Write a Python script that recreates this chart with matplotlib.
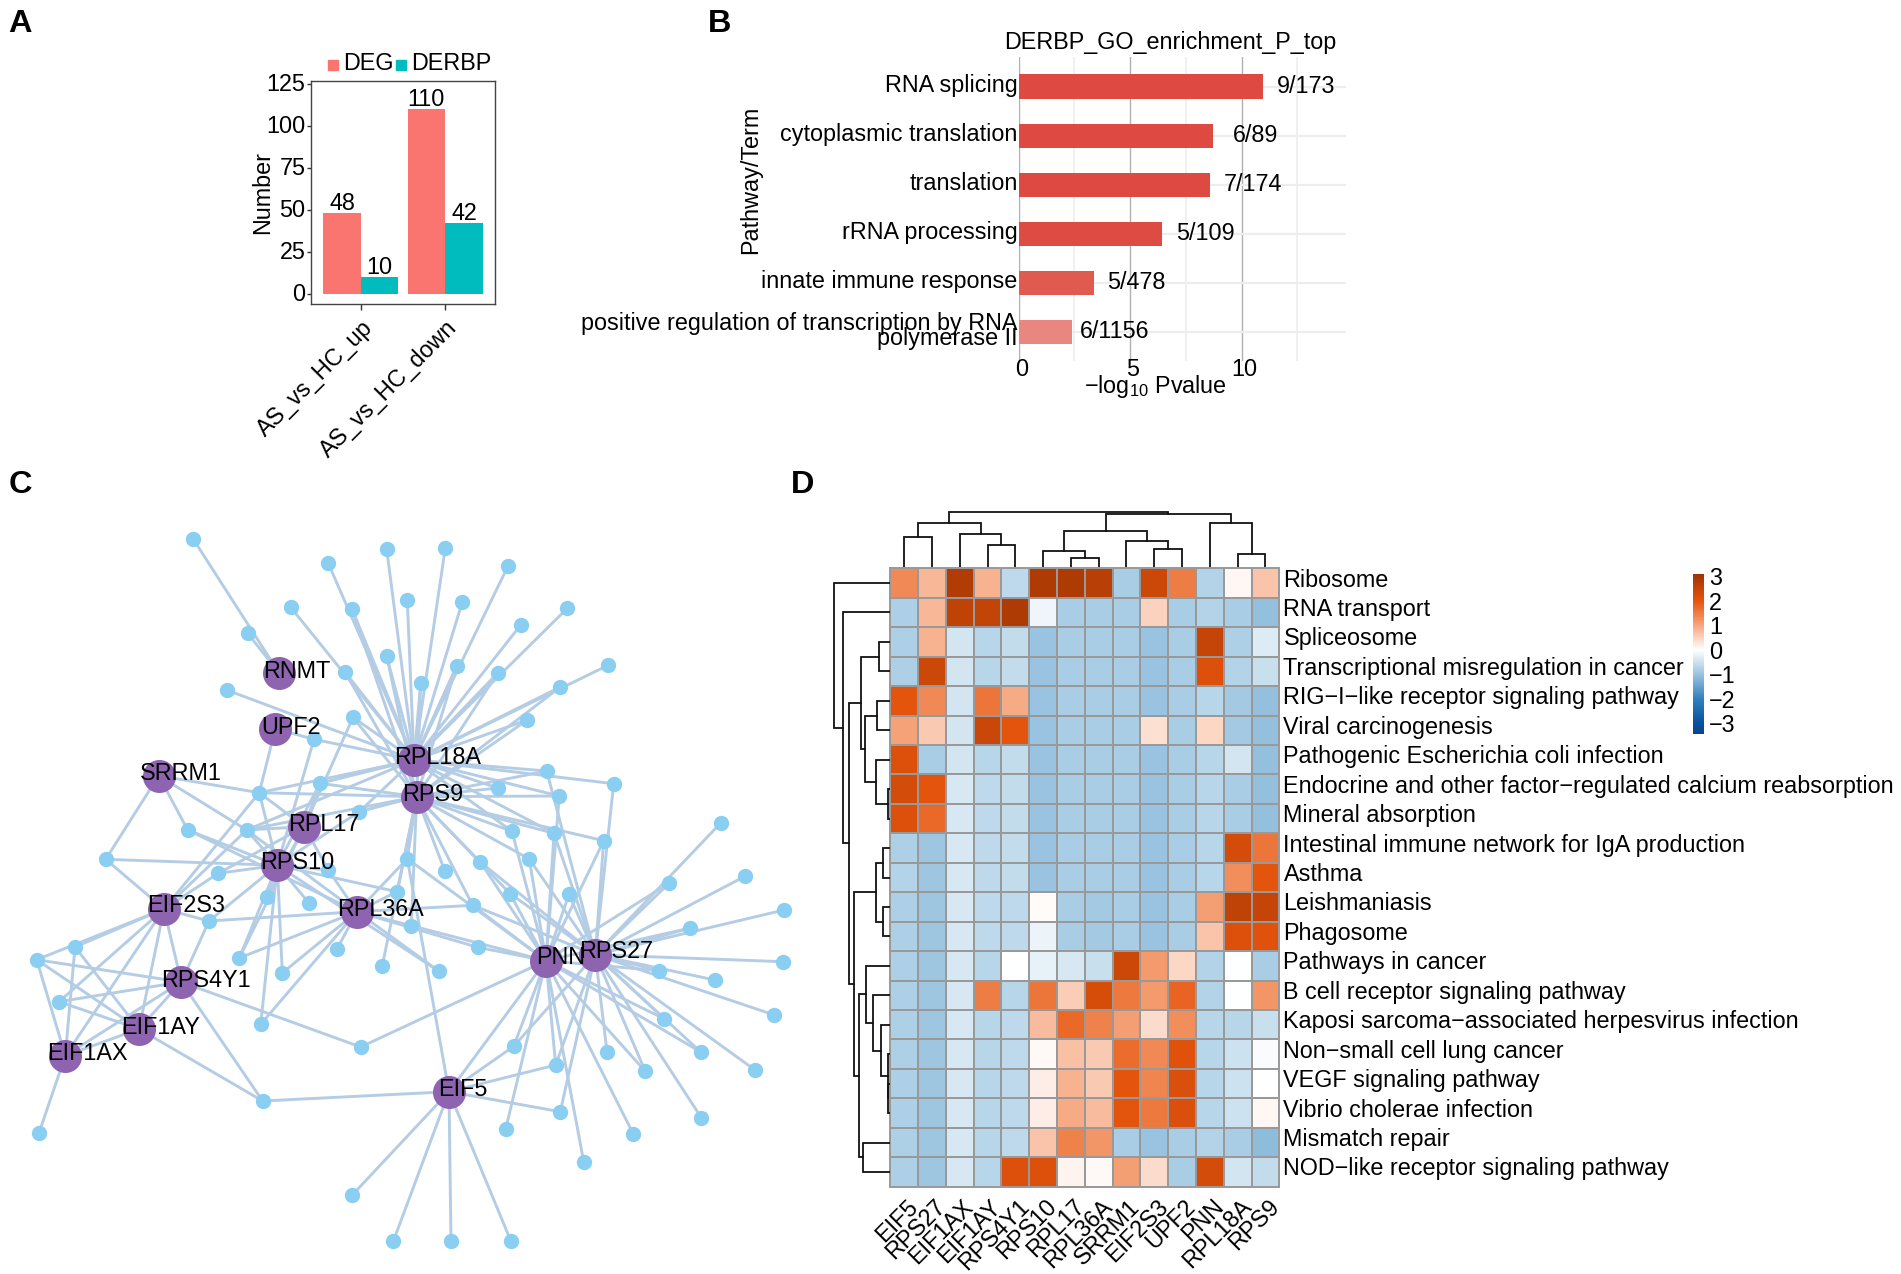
import matplotlib
matplotlib.use('Agg')
import matplotlib.pyplot as plt
import numpy as np
from matplotlib.collections import LineCollection
from matplotlib.colors import LinearSegmentedColormap, Normalize
from matplotlib.transforms import ScaledTranslation

plt.rcParams['font.family'] = ['Liberation Sans', 'DejaVu Sans']
plt.rcParams['mathtext.fontset'] = 'custom'
plt.rcParams['mathtext.rm'] = 'Liberation Sans'
plt.rcParams['mathtext.default'] = 'rm'

W, H = 1901, 1274
FS = 16.85

# panel A
groups = ['AS_vs_HC_up', 'AS_vs_HC_down']
deg_counts = [48, 110]
derbp_counts = [10, 42]

# panel B
go_terms = ['RNA splicing', 'cytoplasmic translation', 'translation', 'rRNA processing',
            'innate immune response',
            'positive regulation of transcription by RNA\npolymerase II']
go_logp = [10.97, 8.72, 8.57, 6.45, 3.36, 2.37]
go_counts = ['9/173', '6/89', '7/174', '5/109', '5/478', '6/1156']
go_colors = ['#DE4A42', '#DE4A42', '#DE4A42', '#DE4B43', '#E05A50', '#E98680']

# panel C, positions in image pixels
hub_names = ['RNMT', 'UPF2', 'SRRM1', 'RPL17', 'RPS10', 'RPL18A', 'RPS9', 'EIF2S3',
             'RPL36A', 'RPS4Y1', 'EIF1AY', 'EIF1AX', 'PNN', 'RPS27', 'EIF5']
hub_x = [279.3, 275.3, 158.7, 304.3, 277.3, 414, 416.7, 164, 357, 181.3, 139, 65.3, 546, 595.3, 449]
hub_y = [673.3, 728.7, 775.7, 826.7, 865.3, 760, 796.7, 909, 911.7, 982, 1029, 1055.7, 960.7, 954.7, 1091.7]
hub_label_x = [263, 261.7, 140, 288, 260, 394, 402.3, 146.7, 337.3, 160.7, 120.7, 47.3, 536, 579, 438]
hub_label_y = [671, 727, 773.7, 824.7, 862.7, 758, 794.7, 906, 909.3, 980.3, 1027, 1053.7, 958, 952, 1089.3]
leaf_x = [193, 247.7, 328, 386.7, 352, 290.7, 407.3, 386.7, 345, 226.7,
          353, 314, 320, 259.3, 359.3, 187.7, 246.7, 105.7, 218.3, 328.3,
          407.3, 397, 266.7, 309.3, 209, 411.3, 337, 239.3, 382.3, 75,
          36.7, 282.3, 59, 260.7, 360.7, 262.7, 39, 352, 393.3, 445.3,
          508, 462.3, 567.3, 521, 608, 456.7, 497.7, 560.3, 420.7, 527.3,
          546.7, 613.7, 497.7, 559.3, 512, 554, 603.7, 720.7, 480.3, 529.3,
          444.7, 669.3, 745, 510, 569, 472.7, 690.3, 784, 477.7, 439,
          782.7, 659.3, 715, 774.3, 664, 513.7, 607, 700.7, 645.3, 755,
          555.7, 701.3, 633.3, 560.3, 505.7, 583.7, 451, 511]
leaf_y = [538.7, 633.3, 562.7, 549.3, 609, 607.3, 600, 656, 672, 690,
          717.3, 739.3, 783.3, 792.7, 811.7, 830, 830, 859.3, 873.3, 870,
          858.7, 891.7, 897.3, 903.3, 921, 925.7, 949, 958, 965.7, 947,
          959.7, 973, 1001.7, 1024.3, 1047, 1101, 1133, 1195.3, 1241.3, 548,
          566, 602, 608.3, 624.7, 665.3, 665.7, 673, 687, 683.3, 720,
          771, 783.7, 788, 796, 831.3, 833.3, 840.7, 823, 862, 859,
          870.7, 883, 876.3, 893.5, 894.3, 905.3, 928, 910, 947.3, 971.3,
          961.7, 970.7, 980, 1015, 1018.7, 1046.3, 1051.7, 1052, 1071.3, 1070,
          1065, 1117.7, 1134, 1111.7, 1129, 1161.7, 1241.3, 1241.3]
leaf_hubs = ['RNMT', 'RNMT', 'RPL18A', 'RPL18A', 'RPL18A RPS9', 'RPL18A', 'RPL18A',
             'RPL18A RPS9', 'RPL18A RPS9', 'RPL18A', 'RPL18A RPS9 RPL17',
             'UPF2 RPL18A RPS10', 'RPL18A RPS9 RPL17 RPS10',
             'SRRM1 UPF2 RPL18A RPS9 RPL17 EIF2S3 RPS10', 'RPL18A RPS9 RPS10',
             'SRRM1 RPS10 RPL36A', 'SRRM1 RPL18A RPS9 RPL17 RPS10 RPL36A EIF2S3',
             'SRRM1 RPS10 EIF2S3', 'EIF2S3 RPS10 RPL17', 'RPS10 RPL36A RPL17',
             'RPS9 RPL36A PNN EIF5', 'RPS9 RPL36A RPS10', 'RPS10 RPL17', 'RPS10',
             'RPL36A EIF2S3 RPS4Y1 RPS10', 'RPL36A PNN RPS9', 'RPL36A',
             'RPL36A RPS10 RPL17', 'RPS9', 'EIF2S3 EIF1AX EIF1AY',
             'EIF2S3 EIF1AX RPS4Y1 EIF1AY', 'RPS10 RPL36A', 'RPS4Y1 EIF1AY EIF2S3',
             'RPS10 RPL36A', 'RPS4Y1 PNN', 'RPS4Y1 EIF1AY EIF5', 'EIF1AX', 'EIF5', 'EIF5',
             'RPL18A', 'RPL18A', 'RPL18A', 'RPL18A', 'RPL18A', 'RPL18A',
             'RPL18A RPS9', 'RPL18A RPS9', 'RPL18A RPS9', 'RPL18A RPS9', 'RPL18A RPS9',
             'RPL18A RPS9 RPS27', 'RPL18A RPS27', 'RPL18A RPS9', 'RPL18A RPS9 PNN',
             'RPS9 RPL18A PNN', 'RPS9 RPL18A RPS27 PNN', 'RPS9 RPS27 PNN', 'RPS27',
             'RPS9 PNN RPS27', 'RPS9 PNN RPS27', 'RPS9', 'RPS27 PNN', 'RPS27',
             'RPS9 PNN RPS27', 'RPS27 PNN', 'RPL36A PNN RPS9 RPS27', 'RPS27 PNN', 'RPS27',
             'RPL36A PNN', 'RPL36A RPS10', 'RPS27', 'RPS27 PNN', 'RPS27', 'RPS27',
             'RPS27 PNN', 'EIF5 PNN RPS27', 'RPS27', 'RPS27 PNN', 'RPS27 PNN', 'RPS27',
             'EIF5 PNN RPS27', 'RPS27', 'PNN', 'EIF5 RPS27', 'PNN', 'PNN', 'EIF5', 'EIF5']
hub_links = [('EIF5', 'PNN'), ('EIF1AX', 'EIF1AY'), ('EIF1AX', 'RPS4Y1'), ('EIF1AX', 'EIF2S3'),
             ('EIF1AY', 'EIF2S3'), ('EIF1AY', 'RPS4Y1'), ('RPS4Y1', 'EIF2S3')]

# panel D
heat_cols = ['EIF5', 'RPS27', 'EIF1AX', 'EIF1AY', 'RPS4Y1', 'RPS10', 'RPL17', 'RPL36A',
             'SRRM1', 'EIF2S3', 'UPF2', 'PNN', 'RPL18A', 'RPS9']
heat_rows = ['Ribosome', 'RNA transport', 'Spliceosome', 'Transcriptional misregulation in cancer',
             'RIG\u2212I\u2212like receptor signaling pathway', 'Viral carcinogenesis',
             'Pathogenic Escherichia coli infection',
             'Endocrine and other factor\u2212regulated calcium reabsorption', 'Mineral absorption',
             'Intestinal immune network for IgA production', 'Asthma', 'Leishmaniasis', 'Phagosome',
             'Pathways in cancer', 'B cell receptor signaling pathway',
             'Kaposi sarcoma\u2212associated herpesvirus infection', 'Non\u2212small cell lung cancer',
             'VEGF signaling pathway', 'Vibrio cholerae infection', 'Mismatch repair',
             'NOD\u2212like receptor signaling pathway']
heat_values = [
    [1.35, .8, 2.8, .85, -.65, 2.85, 2.85, 2.7, -.85, 2.4, 1.5, -.75, .1, .65],
    [-.8, .8, 2.6, 2.55, 2.85, -.15, -.85, -.85, -.85, .5, -.85, -.75, -.85, -1.05],
    [-.8, .85, -.45, -.7, -.6, -1, -.85, -.85, -.85, -1, -.85, 2.5, -.8, -.35],
    [-.8, 2.4, -.45, -.7, -.6, -1, -.85, -.85, -.85, -1, -.85, 2.15, -.75, -.55],
    [2, 1.35, -.45, 1.6, .95, -1, -.85, -.85, -.85, -1, -.85, -.7, -.9, -1.05],
    [1.05, .6, -.45, 2.45, 2, -1, -.85, -.85, -.85, .35, -.85, .45, -.9, -1.05],
    [2.15, -.85, -.45, -.7, -.6, -1, -.85, -.85, -.85, -1, -.85, -.7, -.45, -1.05],
    [2.3, 2, -.4, -.65, -.6, -1, -.85, -.85, -.85, -1, -.85, -.7, -.85, -1.05],
    [2.15, 1.75, -.4, -.65, -.6, -1, -.85, -.85, -.85, -1, -.85, -.7, -.85, -1.05],
    [-.8, -.95, -.4, -.65, -.6, -1, -.85, -.85, -.85, -1, -.85, -.7, 2.3, 1.6],
    [-.75, -.95, -.4, -.65, -.6, -1, -.85, -.85, -.85, -1, -.85, -.7, 1.3, 2.05],
    [-.8, -.95, -.4, -.65, -.65, .05, -.85, -.9, -.85, -1, -.85, 1.1, 2.6, 2.5],
    [-.8, -.95, -.4, -.65, -.65, -.2, -.85, -.9, -.85, -1, -.85, .65, 2.15, 2.1],
    [-.8, -.95, -.4, -.7, 0, -.25, -.4, -.55, 2.4, 1.15, .45, -.75, 0, -.85],
    [-.8, -.95, -.4, 1.5, -.7, 1.6, .55, 2.25, 1.55, 1.15, 1.8, -.75, 0, 1.2],
    [-.8, -.95, -.4, -.7, -.65, .75, 1.75, 1.45, 1.1, .4, 1.3, -.7, -.7, -.55],
    [-.8, -.95, -.4, -.7, -.65, .07, .7, .6, 1.7, 1.35, 2.1, -.7, -.5, -.05],
    [-.8, -.95, -.4, -.7, -.65, .2, .85, .6, 2, 1.4, 2.2, -.7, -.5, 0],
    [-.8, -.95, -.4, -.7, -.65, .2, .95, .75, 2.05, 1.55, 2.2, -.7, -.5, .1],
    [-.8, -.95, -.4, -.7, -.65, .65, 1.45, 1.2, -.85, -1, -.85, -.75, -.85, -1.1],
    [-.8, -.95, -.4, -.7, 2.15, 2.15, .12, .07, 1.1, .4, -.85, 2.3, -.45, -.6],
]
# (left child, right child, height); child ids past the leaves are earlier merges
col_merges = [(0, 1, 92), (3, 4, 67), (2, 15, 99), (14, 16, 134), (6, 7, 29), (5, 18, 49),
              (9, 10, 55), (8, 20, 80), (19, 21, 110), (12, 13, 40), (11, 23, 132),
              (22, 24, 160), (17, 25, 165)]
row_merges = [(2, 3, 32), (4, 5, 40), (7, 8, 5), (6, 23, 42), (22, 24, 75), (21, 25, 87),
              (9, 10, 20), (11, 12, 22), (27, 28, 42), (17, 18, 5), (16, 30, 7), (15, 31, 28),
              (14, 32, 50), (13, 33, 72), (19, 20, 80), (34, 35, 92), (29, 36, 107),
              (26, 37, 122), (1, 38, 142), (0, 39, 167)]
cmap_values = [-3.45, -3, -2, -1, 0, 1, 2, 3, 3.1]
cmap_colors = ['#08468C', '#08519C', '#3182BD', '#9AC4E0', '#FFFFFF', '#F6A67E', '#E6550D', '#A63603', '#A03303']


def add_axes_px(fig, left, top, right, bottom):
    return fig.add_axes([left / W, 1 - bottom / H, (right - left) / W, (bottom - top) / H])


def shift_px(fig, labels, dx, dy):
    # nudge tick labels, dy is positive upwards
    off = ScaledTranslation(dx / fig.dpi, dy / fig.dpi, fig.dpi_scale_trans)
    for lab in labels:
        lab.set_transform(lab.get_transform() + off)


def plot_bars(fig):
    ax = add_axes_px(fig, 311, 81, 495, 303.7)
    x = np.arange(len(groups))
    width = 0.445
    ax.bar(x - width / 2, deg_counts, width, color='#FB7570')
    ax.bar(x + width / 2, derbp_counts, width, color='#00BCBF')
    for i in x:
        ax.text(i - width / 2, deg_counts[i] - 1, str(deg_counts[i]), ha='center', va='bottom',
                fontsize=FS, linespacing=1)
        ax.text(i + width / 2, derbp_counts[i] - 1, str(derbp_counts[i]), ha='center', va='bottom',
                fontsize=FS, linespacing=1)
    ax.set_xlim(-0.59, 1.59)
    ax.set_ylim(-5.8, 126.9)
    ax.set_yticks([0, 25, 50, 75, 100, 125])
    ax.set_xticks(x)
    ax.set_xticklabels(groups, rotation=45, ha='right', va='top', rotation_mode='anchor', fontsize=FS)
    ax.tick_params(axis='both', labelsize=FS, length=3, width=1, color='#333333', pad=1)
    ax.tick_params(axis='x', length=4, pad=5)
    shift_px(fig, ax.get_yticklabels(), 0, 2)
    for sp in ax.spines.values():
        sp.set_color('#444444')
        sp.set_linewidth(1.0)
    fig.text(263 / W, 1 - 193 / H, 'Number', rotation=90, ha='center', va='center', fontsize=FS)
    # legend keys
    for left, color, label, tx in [(328, '#FB7570', 'DEG', 343), (396, '#00BCBF', 'DERBP', 411)]:
        fig.patches.append(plt.Rectangle((left / W, 1 - 69.5 / H), 10 / W, 9.5 / H, color=color,
                                         transform=fig.transFigure))
        fig.text(tx / W, 1 - 64 / H, label, ha='left', va='center', fontsize=FS)


def plot_go(fig):
    ax = add_axes_px(fig, 1018.7, 57.3, 1345.6, 360.7)
    y = np.arange(len(go_terms))
    ax.barh(y, go_logp, height=0.5, color=go_colors, zorder=3)
    for i, (v, lab) in enumerate(zip(go_logp, go_counts)):
        ax.text(v + 1.93, i, lab, ha='center', va='center', fontsize=FS, zorder=4)
        ax.annotate(go_terms[i], xy=(0, i), xytext=(-1, 1), textcoords='offset pixels',
                    ha='right', va='center', fontsize=FS, linespacing=0.6, multialignment='right')
    ax.set_xlim(0, 14.67)
    ax.set_ylim(5.586, -0.6)
    ax.set_xticks([0, 5, 10])
    ax.set_xticks([2.5, 7.5, 12.5], minor=True)
    ax.set_yticks(y)
    ax.set_yticklabels([])
    ax.tick_params(axis='both', which='both', length=0)
    ax.tick_params(axis='x', labelsize=FS, pad=-2)
    shift_px(fig, ax.get_xticklabels(), 2.5, 0)
    ax.grid(axis='x', which='major', color='#B0B0B0', lw=1.0)
    ax.grid(axis='x', which='minor', color='#EDEDED', lw=1.2)
    ax.grid(axis='y', color='#EDEDED', lw=1.6)
    ax.set_axisbelow(True)
    for sp in ax.spines.values():
        sp.set_visible(False)
    fig.text(751 / W, 1 - 180 / H, 'Pathway/Term', rotation=90, ha='center', va='center', fontsize=FS)
    fig.text(1155 / W, 1 - 386 / H, r'$\mathrm{-log_{10}}$ Pvalue',
             ha='center', va='center', fontsize=FS)
    fig.text(1170 / W, 1 - 42 / H, 'DERBP_GO_enrichment_P_top', ha='center', va='center', fontsize=FS)


def plot_network(fig):
    ax = fig.add_axes([0, 0, 1, 1], facecolor='none')
    ax.set_xlim(0, W)
    ax.set_ylim(H, 0)
    ax.axis('off')
    pos = {n: (hub_x[i], hub_y[i]) for i, n in enumerate(hub_names)}
    segs = []
    for lx, ly, hubs in zip(leaf_x, leaf_y, leaf_hubs):
        for h in hubs.split():
            segs.append([(lx, ly), pos[h]])
    for a, b in hub_links:
        segs.append([pos[a], pos[b]])
    ax.add_collection(LineCollection(segs, colors='#B4CDE4', linewidths=2.1, zorder=1))
    ax.scatter(leaf_x, leaf_y, s=122, color='#8ACEF2', linewidths=0, zorder=2)
    ax.scatter(hub_x, hub_y, s=565, color='#8E63B0', linewidths=0, zorder=3)
    for name, tx, ty in zip(hub_names, hub_label_x, hub_label_y):
        ax.text(tx, ty, name, ha='left', va='center', fontsize=FS, color='black', zorder=4)


def dendro_segments(merges, n_leaves):
    # returns (position, height) elbows, one list per merge
    pos = {i: i + 0.5 for i in range(n_leaves)}
    height = {i: 0 for i in range(n_leaves)}
    segs = []
    for k, (a, b, h) in enumerate(merges):
        segs.append((pos[a], height[a], pos[b], height[b], h))
        pos[n_leaves + k] = (pos[a] + pos[b]) / 2
        height[n_leaves + k] = h
    return segs


def plot_heatmap(fig):
    left, top, right, bottom = 890.3, 568.3, 1279.3, 1186.7
    ax = add_axes_px(fig, left, top, right, bottom)
    lo, hi = cmap_values[0], cmap_values[-1]
    nodes = [(v - lo) / (hi - lo) for v in cmap_values]
    cmap = LinearSegmentedColormap.from_list('blue_orange', list(zip(nodes, cmap_colors)))
    mesh = ax.pcolormesh(np.array(heat_values), cmap=cmap, norm=Normalize(lo, hi),
                         edgecolors='#999999', linewidth=1.4)
    ax.invert_yaxis()
    ax.set_xlim(0, len(heat_cols))
    ax.set_xticks(np.arange(len(heat_cols)) + 0.5)
    ax.set_xticklabels(heat_cols, rotation=45, ha='right', va='top', rotation_mode='anchor', fontsize=FS)
    ax.set_yticks(np.arange(len(heat_rows)) + 0.5)
    ax.set_yticklabels(heat_rows, fontsize=FS, va='center')
    ax.yaxis.tick_right()
    ax.tick_params(axis='both', length=0)
    ax.tick_params(axis='y', pad=3)
    ax.tick_params(axis='x', pad=6)
    shift_px(fig, ax.get_yticklabels(), 0, 3)
    shift_px(fig, ax.get_xticklabels(), 2, 0)
    for sp in ax.spines.values():
        sp.set_color('#999999')
        sp.set_linewidth(1.4)

    # column dendrogram
    dax = add_axes_px(fig, left, 510.7, right, 567.3)
    for x0, h0, x1, h1, h in dendro_segments(col_merges, len(heat_cols)):
        dax.plot([x0, x0, x1, x1], [h0, h, h, h1], color='#111111', lw=1.3, solid_joinstyle='miter')
    dax.set_xlim(0, len(heat_cols))
    dax.set_ylim(0, 170)
    dax.axis('off')

    # row dendrogram
    rax = add_axes_px(fig, 833.3, top, left - 0.3, bottom)
    for y0, h0, y1, h1, h in dendro_segments(row_merges, len(heat_rows)):
        rax.plot([h0, h, h, h1], [y0, y0, y1, y1], color='#111111', lw=1.3, solid_joinstyle='miter')
    rax.set_xlim(170, 0)
    rax.set_ylim(len(heat_rows), 0)
    rax.axis('off')

    cax = add_axes_px(fig, 1693.3, 574, 1703.8, 734)
    cbar = fig.colorbar(mesh, cax=cax, ticks=[-3, -2, -1, 0, 1, 2, 3])
    cbar.outline.set_visible(False)
    cbar.ax.tick_params(length=0, labelsize=FS, pad=4)


def main():
    fig = plt.figure(figsize=(W / 100, H / 100), dpi=100, facecolor='white')
    plot_network(fig)
    plot_bars(fig)
    plot_go(fig)
    plot_heatmap(fig)
    for lab, x, y in [('A', 8, 24), ('B', 708, 24), ('C', 9, 485), ('D', 791, 485)]:
        fig.text(x / W, 1 - y / H, lab, fontsize=23.4, fontweight='bold', ha='left', va='center')
    fig.savefig('out.png', dpi=100)
    plt.close(fig)


if __name__ == '__main__':
    main()
